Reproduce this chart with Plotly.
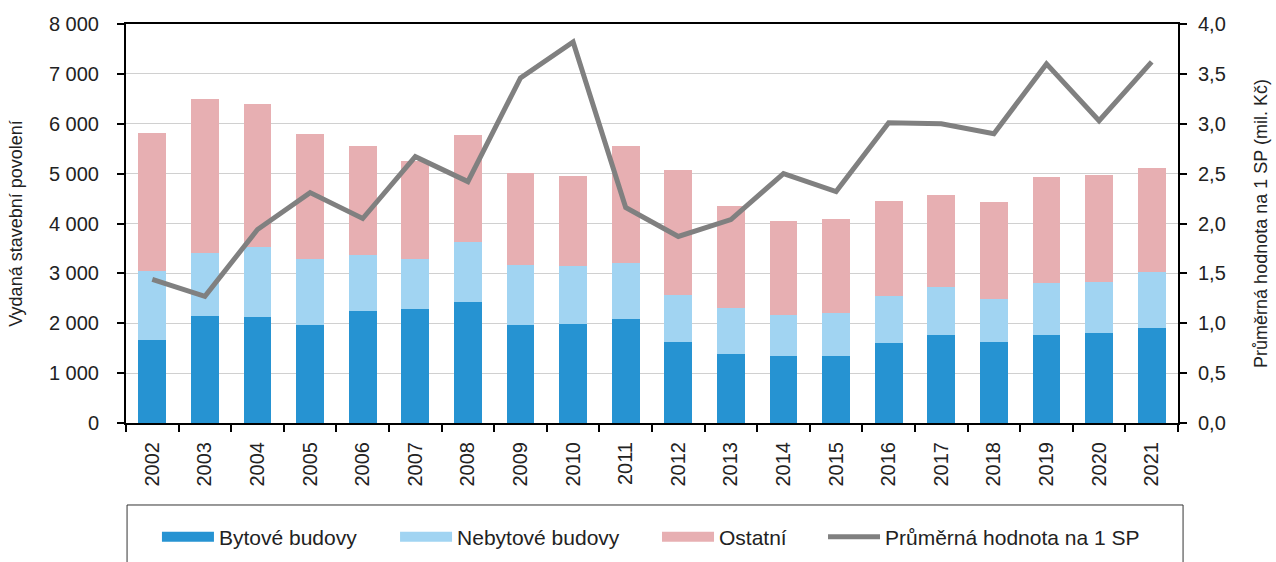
import plotly.graph_objects as go

years = [str(y) for y in range(2002, 2022)]
bytove = [1660, 2140, 2120, 1967, 2240, 2287, 2420, 1960, 1993, 2080, 1620, 1393, 1340, 1347, 1607, 1773, 1633, 1767, 1800, 1900]
nebytove_top = [3046, 3413, 3527, 3287, 3373, 3280, 3620, 3160, 3140, 3207, 2567, 2313, 2160, 2213, 2553, 2720, 2487, 2807, 2833, 3027]
celkem = [5806, 6493, 6393, 5787, 5553, 5253, 5767, 5020, 4947, 5553, 5080, 4353, 4053, 4087, 4460, 4567, 4440, 4927, 4973, 5120]
prumer = [1.44, 1.27, 1.94, 2.31, 2.05, 2.67, 2.42, 3.46, 3.82, 2.16, 1.87, 2.04, 2.50, 2.32, 3.01, 3.00, 2.90, 3.60, 3.03, 3.62]

names = ["Bytové budovy", "Nebytové budovy", "Ostatní", "Průměrná hodnota na 1 SP"]
colors = ["#2693d2", "#a1d4f2", "#e7afb2", "#808080"]

nebytove = [n - b for n, b in zip(nebytove_top, bytove)]
ostatni = [c - n for c, n in zip(celkem, nebytove_top)]

FONT = "Liberation Sans, Arial, sans-serif"

fig = go.Figure()
for vals, nm, col in zip([bytove, nebytove, ostatni], names[:3], colors[:3]):
    fig.add_trace(go.Bar(x=years, y=vals, name=nm, marker=dict(color=col, line=dict(width=0)),
                         showlegend=False))
fig.add_trace(go.Scatter(x=years, y=prumer, name=names[3], mode="lines",
                         line=dict(color=colors[3], width=5), yaxis="y2", showlegend=False))

# legend entries (wide swatches like the original)
legend_x = [0.1230, 0.3096, 0.5149, 0.6450]
legend_keys = ["legend", "legend2", "legend3", "legend4"]
for nm, col, key, w in zip(names, colors, legend_keys, [12, 12, 12, 5]):
    fig.add_trace(go.Scatter(x=[None], y=[None], name=nm, mode="lines",
                             line=dict(color=col, width=w), legend=key, showlegend=True))

legend_common = dict(orientation="h", xref="container", yref="container",
                     y=0.0445, yanchor="middle", xanchor="left",
                     font=dict(size=21, family=FONT, color="#222222"), itemwidth=52,
                     bgcolor="rgba(0,0,0,0)")

layout_legends = {}
for key, lx in zip(legend_keys, legend_x):
    layout_legends[key] = dict(x=lx, **legend_common)

fig.update_layout(
    width=1276, height=562,
    margin=dict(l=126, r=98, t=24, b=139),
    barmode="stack", bargap=0.47,
    paper_bgcolor="white", plot_bgcolor="white",
    separators=", ",
    font=dict(family=FONT, size=20, color="#222222"),
    xaxis=dict(
        type="category", tickangle=-90, tickfont=dict(size=20), automargin=False,
        showline=True, linecolor="black", linewidth=2, mirror=True,
        ticks="outside", tickson="boundaries", ticklen=7, tickcolor="black", tickwidth=1.5,
        ticklabelstandoff=9, showgrid=False,
    ),
    yaxis=dict(
        range=[0, 8000], dtick=1000, separatethousands=True, automargin=False,
        showline=True, linecolor="black", linewidth=2,
        ticks="outside", ticklen=7, tickcolor="black", tickwidth=1.5,
        ticklabelstandoff=14,
        gridcolor="#d0d0d0", gridwidth=1.3, zeroline=False,
        tickfont=dict(size=20),
        title=dict(text="Vydaná stavební povolení", font=dict(size=18), standoff=22),
    ),
    yaxis2=dict(
        range=[0, 4], dtick=0.5, tickformat=".1f", overlaying="y", side="right", automargin=False,
        showline=True, linecolor="black", linewidth=2,
        ticks="outside", ticklen=7, tickcolor="black", tickwidth=1.5,
        ticklabelstandoff=7,
        showgrid=False, zeroline=False,
        tickfont=dict(size=20),
        title=dict(text="Průměrná hodnota na 1 SP (mil. Kč)", font=dict(size=18), standoff=30),
    ),
    shapes=[dict(type="rect", xref="paper", yref="paper",
                 x0=0.001, x1=1.0048, y0=-0.2055, y1=-0.40,
                 line=dict(color="#333333", width=1), fillcolor="rgba(0,0,0,0)", layer="below")],
    **layout_legends,
)

# remove the default 8px page margin so the figure fills the window exactly
fig.write_html("out.html", config={"displayModeBar": False},
               post_script="document.body.style.margin='0';document.body.style.overflow='hidden';")
